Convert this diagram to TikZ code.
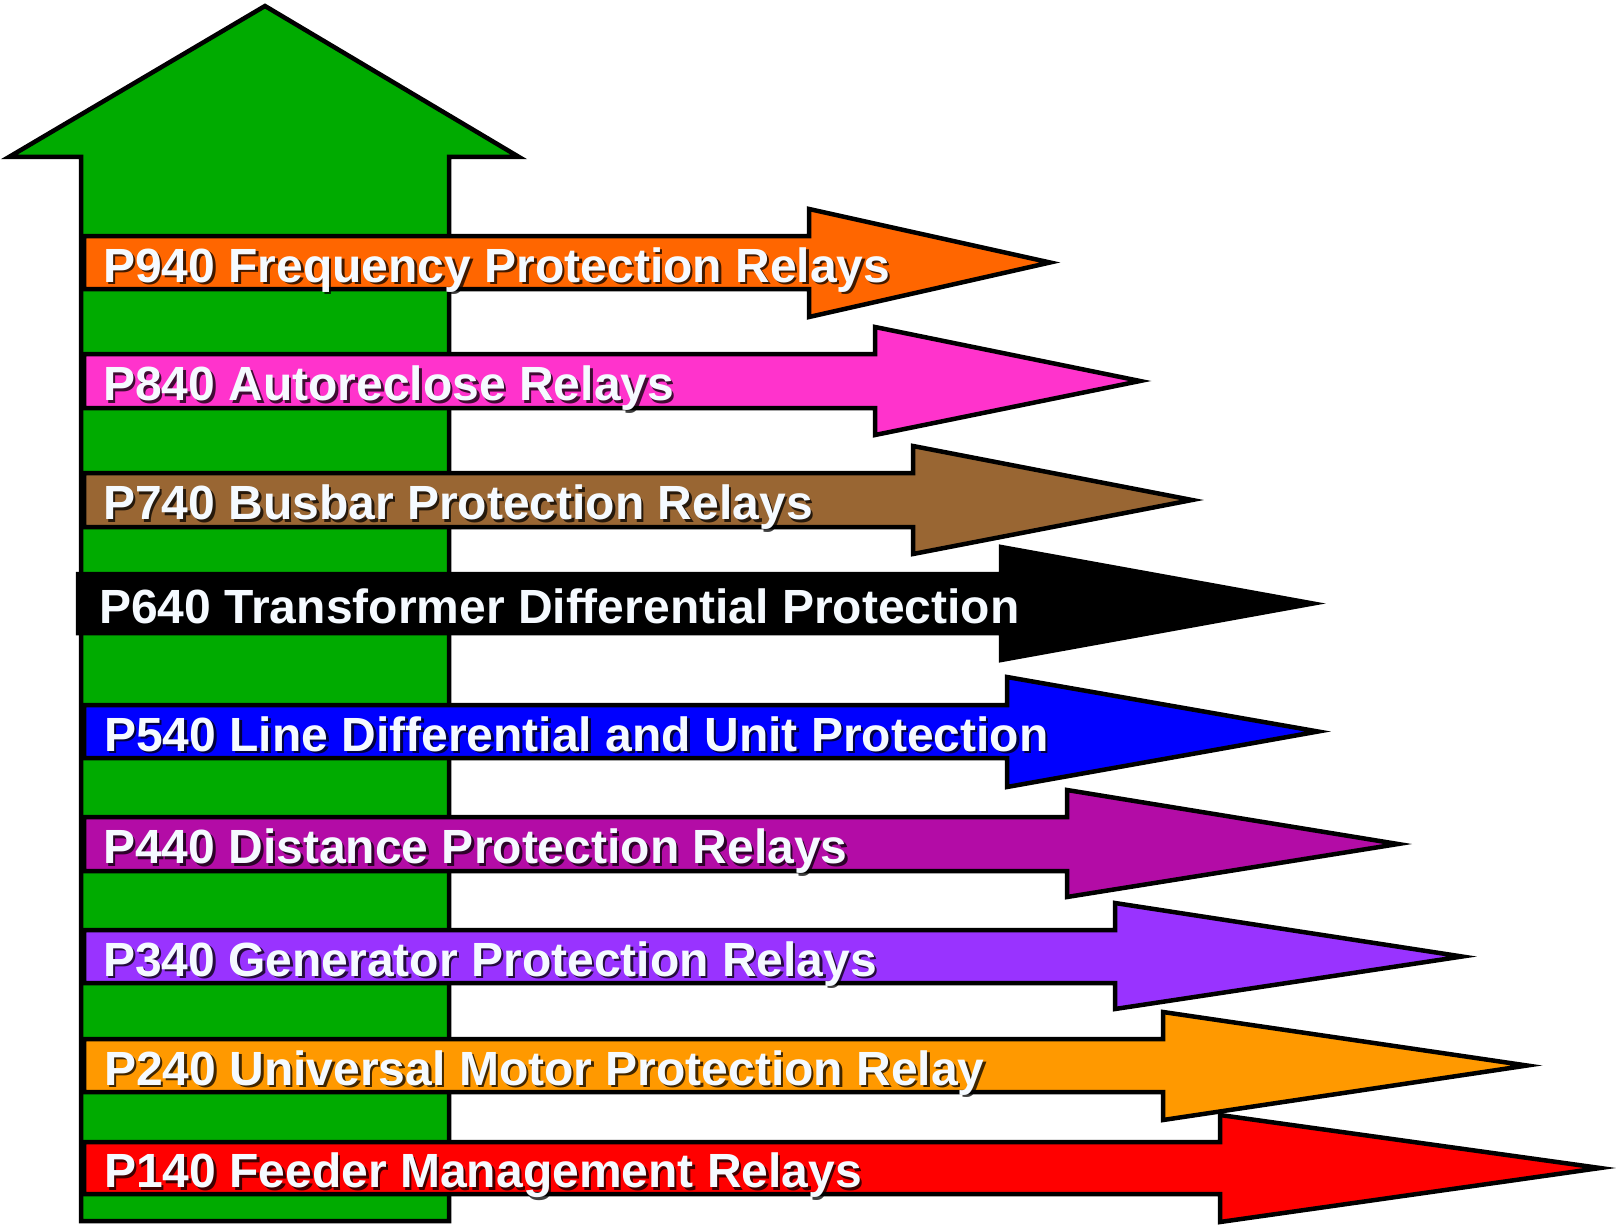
\documentclass[tikz,border=0pt]{standalone}
\usepackage{fontspec}
\setmainfont{Liberation Sans}
\definecolor{gshaft}{HTML}{00AB00}
\definecolor{cP940}{HTML}{FF6600}
\definecolor{cP840}{HTML}{FF33CC}
\definecolor{cP740}{HTML}{996633}
\definecolor{cP640}{HTML}{000000}
\definecolor{cP540}{HTML}{0000FF}
\definecolor{cP440}{HTML}{B30CA6}
\definecolor{cP340}{HTML}{9933FF}
\definecolor{cP240}{HTML}{FF9900}
\definecolor{cP140}{HTML}{FF0000}
\definecolor{txtwhite}{HTML}{F5FAFF}
\tikzset{
  outline/.style={draw=black, line width=4.5pt, line join=miter},
  lbl/.style={anchor=base west, inner sep=0pt, text=txtwhite, font=\fontsize{48}{48}\selectfont\bfseries},
  lblshadow/.style={anchor=base west, inner sep=0pt, text=black, opacity=0.75, font=\fontsize{48}{48}\selectfont\bfseries},
}
\begin{document}
\begin{tikzpicture}[x=1pt,y=-1pt]
\useasboundingbox (0,0) rectangle (1616,1225);
% big green up arrow
\path[outline, fill=gshaft] (265,6) -- (519,157) -- (449,157) -- (449,1221) -- (81,1221) -- (81,157) -- (9,157) -- cycle;
% relay arrows
\foreach \nm/\lx/\t/\b/\hb/\ht/\hbt/\tip/\tx/\txt in {
  P940/84/236/289/809/209/317/1050/103/P940 Frequency Protection Relays,
  P840/84/354/408/875/327/435/1140/103/P840 Autoreclose Relays,
  P740/84/473/527/913/446/554/1192/103/P740 Busbar Protection Relays,
  P640/78/574/633/1001/547/660/1313/99/P640 Transformer Differential Protection,
  P540/84/705/758/1007/677/787/1318/104/P540 Line Differential and Unit Protection,
  P440/84/817/871/1067/790/897/1398/103/P440 Distance Protection Relays,
  P340/84/930/983/1115/903/1009/1462/103/P340 Generator Protection Relays,
  P240/84/1039/1092/1163/1012/1120/1527/104/P240 Universal Motor Protection Relay,
  P140/84/1142/1194/1220/1115/1222/1600/104/P140 Feeder Management Relays}{
  \pgfmathsetmacro\cy{(\t+\b)/2}
  \pgfmathsetmacro\ty{\cy+19.5}
  \path[outline, fill=c\nm] (\lx,\t) -- (\hb,\t) -- (\hb,\ht) -- (\tip,\cy) -- (\hb,\hbt) -- (\hb,\b) -- (\lx,\b) -- cycle;
  \node[lblshadow] (s\nm) at (\tx+2.5,\ty+2.5) {\txt};
  \node[lbl] (t\nm) at (\tx,\ty) {\txt};
}
\end{tikzpicture}
\end{document}
